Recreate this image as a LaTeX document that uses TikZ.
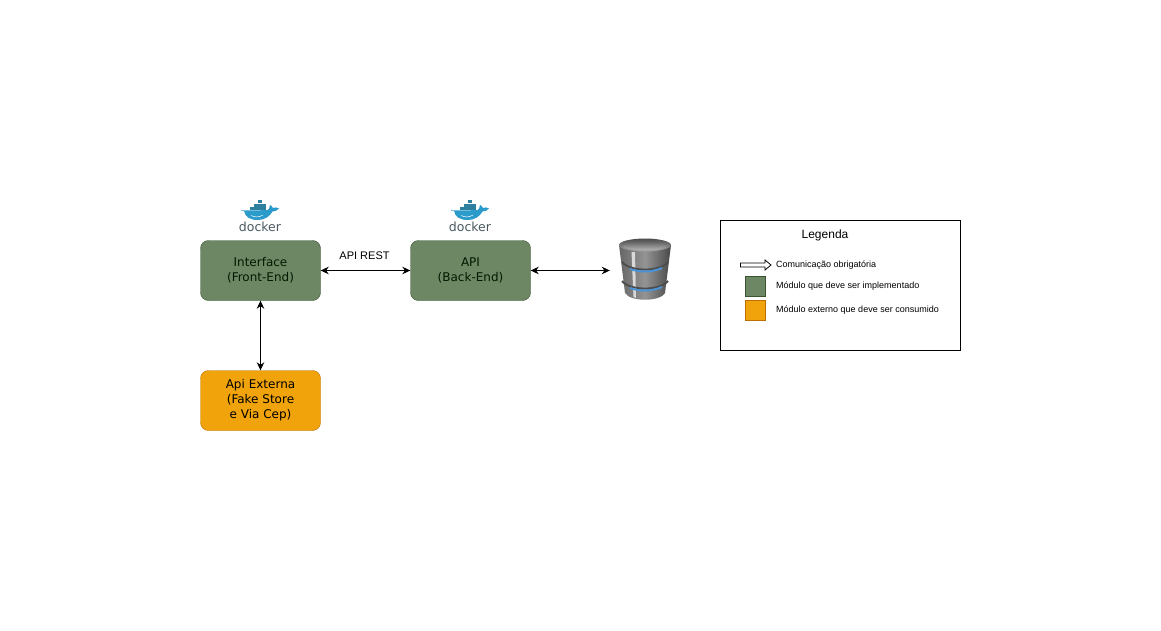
\documentclass[tikz,border=0pt]{standalone}
\usepackage{fontspec}
\setmainfont{Liberation Sans}
\newfontfamily\boxfont{DejaVu Sans}
\usetikzlibrary{arrows.meta,calc}
\definecolor{modgreen}{HTML}{6D8764}
\definecolor{modgreenline}{HTML}{3A5431}
\definecolor{modorange}{HTML}{F0A30A}
\definecolor{modorangeline}{HTML}{BD7000}
\definecolor{whaleblue}{HTML}{2A9BCB}
\definecolor{boxteal}{HTML}{2F7F9F}
\definecolor{dockgray}{HTML}{4A5A60}
\tikzset{
  module/.style={draw=modgreenline,fill=modgreen,rounded corners=8pt,minimum width=120pt,minimum height=60pt,inner sep=0pt,align=center,font=\boxfont\fontsize{12}{15}\selectfont,text=black!90!green},
  extmodule/.style={module,draw=modorangeline,fill=modorange,text=black},
  link/.style={draw=black,line width=0.9pt,{Stealth[length=8pt,width=7.5pt]}-{Stealth[length=8pt,width=7.5pt]}},
  legendtext/.style={anchor=west,inner sep=0pt,font=\fontsize{9}{11}\selectfont},
  swatch/.style={minimum width=20pt,minimum height=20pt,inner sep=0pt,line width=0.8pt},
}
\newcommand{\dockerlogo}[2]{%
  \begin{scope}[shift={(#1,#2)}]
    \foreach \bx/\by in {-10/-4,-6/-4,-2/-4,2/-4,-6/-7.5,-2/-7.5,2/-7.5,-2/-11}{
      \fill[boxteal] (\bx,\by) rectangle ++(3.5,3.2);
    }
    \fill[whaleblue] (-19,-0.6) -- (7.5,-0.8) .. controls (9,-1.2) and (9.5,-3) .. (10,-6)
      .. controls (11,-5.5) and (12.5,-4.5) .. (13,-3)
      .. controls (15,-4) and (17,-3.6) .. (19,-2.6)
      .. controls (17.5,-0.5) and (15,0.5) .. (12.5,0.5)
      .. controls (10,5) and (5,9) .. (-2,9)
      .. controls (-10,9) and (-15,6) .. (-16,-0.2) -- (-19,-0.2) -- cycle;
    \draw[white,line width=0.5pt] (-9,4.5) .. controls (-5,6.5) and (-1,6.5) .. (3,4);
    \node[inner sep=0pt,text=dockgray,font=\boxfont\fontsize{12.5}{13}\selectfont] at (0,15.5) {docker};
  \end{scope}}
\begin{document}
\begin{tikzpicture}[x=1pt,y=-1pt]
\useasboundingbox (0,0) rectangle (1161,631);
\fill[white] (0,0) rectangle (1161,631);

% modules
\node[module] (front) at (260.5,270.5) {Interface\\(Front-End)};
\node[module] (back) at (470.5,270.5) {API\\(Back-End)};
\node[extmodule] (ext) at (260.5,400.5) {Api Externa\\(Fake Store\\e Via Cep)};
\node[minimum width=70pt,minimum height=60pt,inner sep=0pt] (db) at (645,270.5) {};

% connectors
\draw[link] (front) -- (back);
\draw[link] (back) -- (db);
\draw[link] (front) -- (ext);
\node[inner sep=0pt,font=\fontsize{11}{13}\selectfont] (rest) at (364.5,256) {API REST};

% docker logos
\dockerlogo{260}{211}
\dockerlogo{470}{211}

% database
\begin{scope}
  \shade[left color=black!60,right color=black!72,middle color=black!42]
    (619,245) -- (625,293) .. controls (630,302) and (660,302) .. (665,293) -- (671,245) -- cycle;
  \fill[white!85!black] (631.5,252) -- (635,252) -- (636,298) -- (633.5,297) -- cycle;
  \foreach \sy in {0,19}{
    \draw[line width=1.8pt,black!70] (622,{262+\sy}) .. controls (630,{272+\sy}) and (660,{272+\sy}) .. (668,{262+\sy});
    \draw[line width=2pt,cyan!60!blue!75!white] (630,{269+\sy}) .. controls (640,{272.5+\sy}) and (652,{272.5+\sy}) .. (662,{268+\sy});
  }
  \shade[top color=black!70,bottom color=black!35] (645,245) ellipse (26 and 6.5);
  \shade[top color=black!62,bottom color=black!28] (645,246) ellipse (22 and 4.5);
\end{scope}

% legend
\node[draw=black,line width=0.9pt,minimum width=240pt,minimum height=130pt,inner sep=0pt] (legend) at (840.5,285.5) {};
\node[inner sep=0pt,font=\fontsize{12}{14}\selectfont] (legtitle) at (825,235) {Legenda};
\draw[black,fill=white,line width=0.8pt] (740.5,263) -- (765,263) -- (765,260) -- (771,265) -- (765,270) -- (765,267) -- (740.5,267) -- cycle;
\node[legendtext] (legcomm) at (776,265) {Comunicação obrigatória};
\node[swatch,draw=modgreenline,fill=modgreen] (swg) at (755.5,286) {};
\node[legendtext] (legmod) at (776,286) {Módulo que deve ser implementado};
\node[swatch,draw=modorangeline,fill=modorange] (swo) at (755.5,310.5) {};
\node[legendtext] (legext) at (776,310.5) {Módulo externo que deve ser consumido};
\end{tikzpicture}
\end{document}
